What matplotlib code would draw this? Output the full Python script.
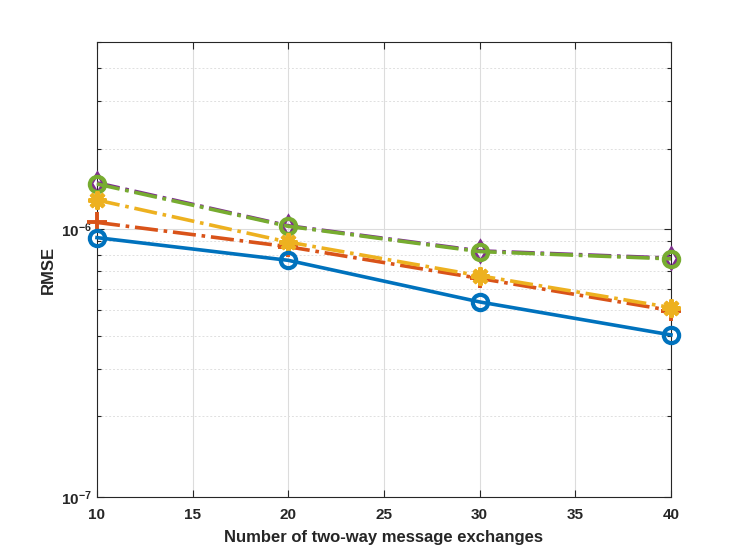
import numpy as np
import matplotlib
matplotlib.use("Agg")
import matplotlib.pyplot as plt
from matplotlib.ticker import LogLocator, FixedLocator, NullFormatter

# values
exchanges = [10, 20, 30, 40]
rmse_blue = [0.93e-6, 0.765e-6, 0.535e-6, 0.403e-6]
rmse_red = [1.06e-6, 0.86e-6, 0.655e-6, 0.497e-6]
rmse_yellow = [1.285e-6, 0.895e-6, 0.67e-6, 0.51e-6]
rmse_purple = [1.49e-6, 1.03e-6, 0.83e-6, 0.78e-6]
rmse_green = [1.475e-6, 1.025e-6, 0.825e-6, 0.775e-6]

plt.rcParams['font.family'] = ['Liberation Sans', 'DejaVu Sans']

fig = plt.figure(figsize=(7.42, 5.6), dpi=100)
ax = fig.add_axes([0.1307, 0.1125, 0.7736, 0.8125])

lw = 2.6
ax.plot(exchanges, rmse_purple, '-.', color='#7E2F8E', lw=lw, marker='d', ms=10,
        mfc='none', mew=2.4, zorder=3, clip_on=False)
ax.plot(exchanges, rmse_green, '-.', color='#77AC30', lw=lw, marker='o', ms=11,
        mfc='none', mew=3, zorder=3.5, clip_on=False)
ax.plot(exchanges, rmse_yellow, '-.', color='#EDB120', lw=lw, marker=(8, 2, 0), ms=13,
        mew=3, zorder=4, clip_on=False)
ax.plot(exchanges, rmse_red, '-.', color='#D95319', lw=lw, marker='+', ms=14,
        mew=2.8, zorder=3.8, clip_on=False)
ax.plot(exchanges, rmse_blue, '-', color='#0072BD', lw=lw, marker='o', ms=11,
        mfc='none', mew=3, zorder=5, clip_on=False)

ax.set_yscale('log')
ax.set_xlim(10, 40)
ax.set_ylim(1e-7, 5e-6)
ax.xaxis.set_major_locator(FixedLocator([10, 15, 20, 25, 30, 35, 40]))
ax.yaxis.set_major_locator(LogLocator(base=10, numticks=10))
ax.yaxis.set_minor_locator(LogLocator(base=10, subs=np.arange(2, 10), numticks=20))
ax.yaxis.set_minor_formatter(NullFormatter())

ax.grid(True, which='major', color='#dcdcdc', lw=0.8, ls='-')
ax.grid(True, which='minor', axis='y', color='#e0e0e0', lw=0.7, ls=(0, (2, 2)))
ax.set_axisbelow(True)

ax.tick_params(which='both', direction='in', top=True, right=True, width=0.8,
               labelsize=11, colors='#262626')
ax.tick_params(which='major', length=5)
ax.tick_params(axis='x', pad=8)
ax.tick_params(which='minor', length=3)
for lab in ax.get_xticklabels() + ax.get_yticklabels():
    lab.set_fontweight('bold')
for sp in ax.spines.values():
    sp.set_color('#262626')
    sp.set_linewidth(0.8)

ax.set_xlabel('Number of two-way message exchanges', fontsize=12,
              fontweight='bold', color='#262626', labelpad=6)
ax.set_ylabel('RMSE', fontsize=12, fontweight='bold', color='#262626', labelpad=4)

fig.savefig('out.png', dpi=100, facecolor='white')
